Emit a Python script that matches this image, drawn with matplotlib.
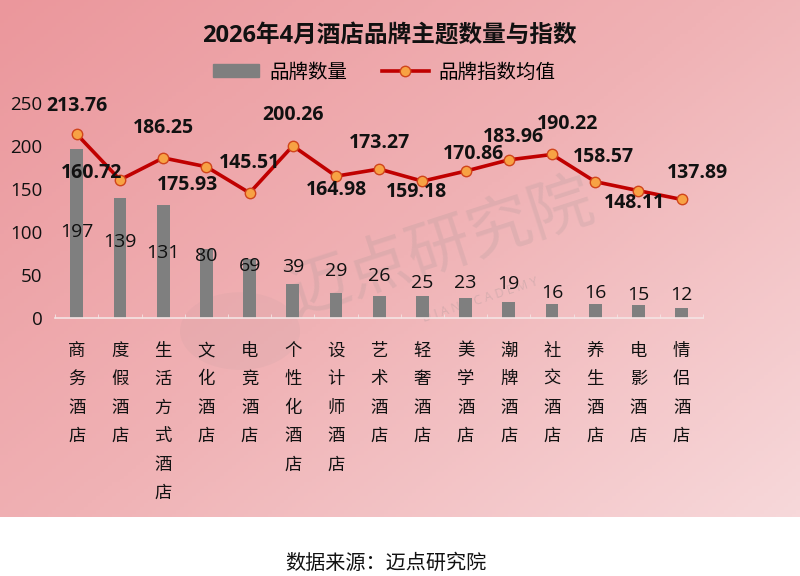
import numpy as np
import matplotlib
matplotlib.use("Agg")
import matplotlib.pyplot as plt
from matplotlib.colors import LinearSegmentedColormap
from matplotlib.lines import Line2D
from matplotlib.patches import Patch, Circle

plt.rcParams["font.family"] = ["Open Sans", "Noto Sans CJK SC", "DejaVu Sans"]
CJK = ["Noto Sans CJK SC", "DejaVu Sans"]

# data
categories = ["商务酒店", "度假酒店", "生活方式酒店", "文化酒店", "电竞酒店",
              "个性化酒店", "设计师酒店", "艺术酒店", "轻奢酒店", "美学酒店",
              "潮牌酒店", "社交酒店", "养生酒店", "电影酒店", "情侣酒店"]
brand_count = [197, 139, 131, 80, 69, 39, 29, 26, 25, 23, 19, 16, 16, 15, 12]
brand_index = [213.76, 160.72, 186.25, 175.93, 145.51, 200.26, 164.98, 173.27,
               159.18, 170.86, 183.96, 190.22, 158.57, 148.11, 137.89]
y_ticks = [0, 50, 100, 150, 200, 250]

# label placement (layout only)
count_label_y = [100, 88, 75.6, 72, 60.5, 59, 54.6, 49, 40.7, 40.7, 39.5, 29, 29, 26.7, 26.7]
index_label_off = [(0, 28), (-28, 7), (0, 30), (-19, -18), (0, 30), (0, 31), (0, -14),
                   (0, 26), (-6, -11), (8, 17), (5, 23), (16, 30), (8, 25), (-4, -12), (16, 26)]

fig = plt.figure(figsize=(8, 5.76), dpi=100)
fig.patch.set_facecolor("white")

# pink gradient background
bg = fig.add_axes([0, 0.102, 1, 0.898], zorder=0)
u = np.linspace(0, 1, 200)
v = np.linspace(0, 1, 150)
U, V = np.meshgrid(u, v)
cmap = LinearSegmentedColormap.from_list("pink", ["#eb979c", "#f0b2b5", "#f7d8da"])
bg.imshow(0.55 * U + 0.45 * V, cmap=cmap, aspect="auto", extent=[0, 1, 0, 1], origin="upper")
bg.axis("off")

# watermark
bg.text(0.55, 0.52, "迈点研究院", fontsize=46, color="#8c8c8c", alpha=0.16,
        rotation=18, ha="center", va="center", transform=bg.transAxes, family=CJK)
bg.add_patch(Circle((0.30, 0.36), 0.075, transform=bg.transAxes, color="#8c8c8c",
                    alpha=0.07, lw=0))
bg.text(0.60, 0.42, "D I A N A C A D E M Y", fontsize=9, color="#8c8c8c", alpha=0.25,
        rotation=18, ha="center", va="center", transform=bg.transAxes)

ax = fig.add_axes([0.069, 0.448, 0.81, 0.373], zorder=2)
ax.patch.set_alpha(0)
x = np.arange(len(categories))

ax.bar(x, brand_count, width=0.3, color="#7f7f7f", zorder=2)
ax.plot(x, brand_index, color="#c00000", lw=2.6, marker="o", markersize=7.5,
        markerfacecolor="#f7a244", markeredgecolor="#d0451b", markeredgewidth=1, zorder=3)

for xi, cy, c in zip(x, count_label_y, brand_count):
    ax.text(xi, cy, str(c), ha="center", va="center", fontsize=14, color="#111111", zorder=4)

for xi, yi, off in zip(x, brand_index, index_label_off):
    ax.annotate(f"{yi:.2f}", (xi, yi), xytext=off, textcoords="offset pixels",
                ha="center", va="center", fontsize=14, fontweight="bold",
                color="#111111", zorder=4)

ax.set_xlim(-0.5, len(categories) - 0.5)
ax.set_ylim(0, 250)
ax.set_yticks(y_ticks)
ax.set_yticklabels([str(t) for t in y_ticks], fontsize=13.5, color="#111111")
ax.set_xticks(x)
ax.set_xticklabels(["\n".join(c) for c in categories], fontsize=12.5,
                   linespacing=1.75, va="top", color="#111111", family=CJK)
ax.set_xticks(np.arange(-0.5, len(categories)), minor=True)
ax.tick_params(axis="y", length=0, pad=9)
ax.tick_params(axis="x", which="major", length=0, pad=17)
ax.tick_params(axis="x", which="minor", length=3, color="#f4e4e4", direction="in")
for s in ["top", "right", "left"]:
    ax.spines[s].set_visible(False)
ax.spines["bottom"].set_color("#f4e4e4")
ax.spines["bottom"].set_linewidth(1.2)

fig.text(0.487, 0.938, "2026年4月酒店品牌主题数量与指数", ha="center", va="center",
         fontsize=17, fontweight="bold", color="#111111")

handles = [Patch(color="#7f7f7f"),
           Line2D([0], [0], color="#c00000", lw=2.6, marker="o", markersize=7.5,
                  markerfacecolor="#f7a244", markeredgecolor="#d0451b")]
fig.legend(handles, ["品牌数量", "品牌指数均值"], loc="center", bbox_to_anchor=(0.48, 0.875),
           ncol=2, frameon=False, handlelength=2.4, handleheight=0.6,
           columnspacing=1.8, handletextpad=0.5, prop={"family": CJK, "size": 14})

fig.text(0.482, 0.022, "数据来源：迈点研究院", ha="center", va="center",
         fontsize=14.5, color="#111111", family=CJK)

fig.savefig("out.png", dpi=100)
